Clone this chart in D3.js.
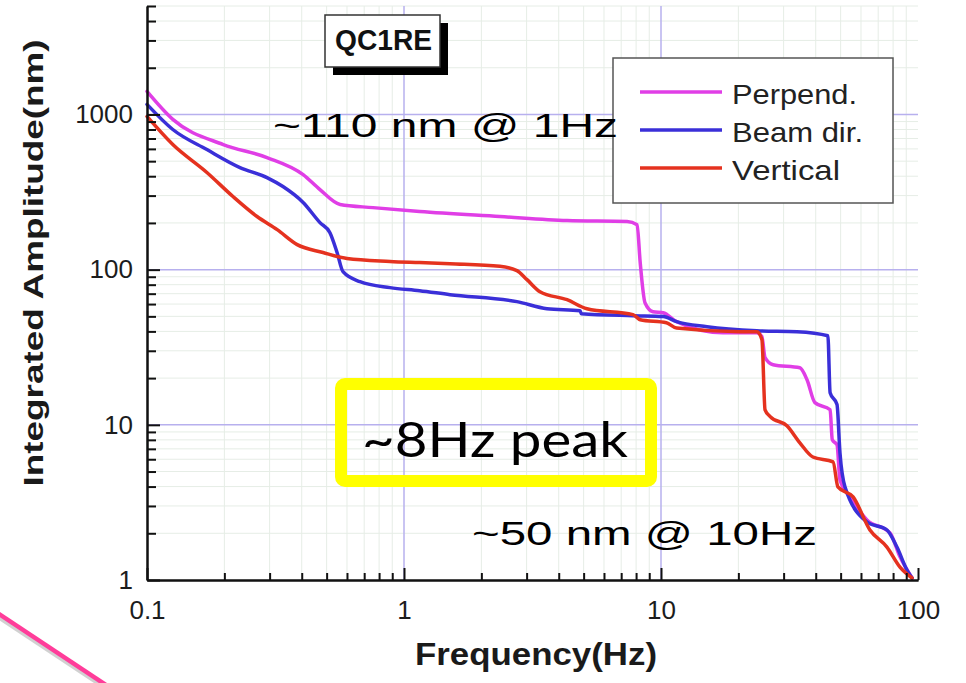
<!DOCTYPE html>
<html><head><meta charset="utf-8">
<script src="https://cdn.jsdelivr.net/npm/d3@7"></script>
<style>body{margin:0;background:#fff;} svg{display:block;}</style>
</head><body>
<svg id="c" width="966" height="683"></svg>
<script>
// ---------- data ----------
const seriesNames = ["Perpend.", "Beam dir.", "Vertical"];
const seriesColors = ["#e03ee6", "#3a2fd8", "#e5321f"];

const freqPerp = [0.1, 0.126, 0.198, 0.293, 0.405, 0.471, 0.564, 0.757, 1.15, 2.36, 4.31, 7.38, 8.07, 8.3, 8.67, 9.31, 10.2, 11.5, 17.4, 23.6, 24.7, 25.4, 27.3, 34.7, 37, 39.7, 45.5, 46.4, 48.4, 49.7, 54.4, 63.3, 77.8, 85.1, 94.8];
const ampPerp  = [1407, 929, 640, 528, 410, 328, 263, 251, 237, 220, 207, 204, 195, 111, 61, 53.6, 52.8, 46.2, 39.2, 39.2, 37, 27.1, 24.4, 23.3, 19.5, 13.9, 12.5, 8.0, 7.43, 4.42, 3.43, 2.44, 2.01, 1.41, 1.03];

const freqBeam = [0.1, 0.126, 0.171, 0.230, 0.293, 0.338, 0.405, 0.471, 0.515, 0.549, 0.579, 0.674, 0.882, 1.15, 1.51, 2.75, 3.6, 4.84, 4.9, 7.78, 10.2, 11.5, 15.1, 23.6, 33.8, 44.6, 45.5, 48.4, 49.7, 52, 63.3, 75.7, 82.8, 90.6, 94.8];
const ampBeam  = [1161, 800, 594, 455, 392, 343, 271, 201, 173, 129, 97, 83.7, 76.6, 73.2, 69, 62.2, 56, 54.4, 52, 50.5, 49.9, 46.2, 42.9, 40.4, 39.8, 37.5, 16.1, 13.5, 6.6, 3.98, 2.37, 2.1, 1.63, 1.16, 1.03];

const freqVert = [0.1, 0.126, 0.171, 0.216, 0.268, 0.321, 0.384, 0.484, 0.6, 0.882, 1.15, 1.51, 2.36, 2.75, 3.01, 3.38, 4.31, 5.15, 7.78, 8.3, 10.5, 11.5, 20.3, 23.6, 24.7, 25.4, 26.6, 30.9, 34.7, 39, 46.7, 48.8, 55.9, 65, 75.7, 85.1, 94.8];
const ampVert  = [971, 640, 423, 296, 220, 181, 145, 129, 118, 113, 111, 109, 105, 98.6, 86.2, 72.1, 64, 56, 51.3, 47.6, 45.5, 42, 39.8, 39.8, 35.4, 12.5, 11.3, 9.86, 7.65, 6.2, 5.77, 3.98, 3.43, 2.1, 1.63, 1.21, 1.03];

const xTickValues = [0.1, 1, 10, 100];
const xTickLabels = ["0.1", "1", "10", "100"];
const yTickValues = [1, 10, 100, 1000];
const yTickLabels = ["1", "10", "100", "1000"];
const xTitle = "Frequency(Hz)";
const yTitle = "Integrated Amplitude(nm)";
const boxLabel = "QC1RE";
const note1 = "~110 nm @ 1Hz";
const note2 = "~8Hz peak";
const note3 = "~50 nm @ 10Hz";

// ---------- chart ----------
const svg = d3.select("#c");
const x = d3.scaleLog().domain([0.1, 100]).range([147, 918]);
const y = d3.scaleLog().domain([1, 5000]).range([580, 6]);

function minorTicks(lo, hi) {
  const out = [];
  for (let e = Math.floor(Math.log10(lo)); e <= Math.ceil(Math.log10(hi)); e++) {
    for (let m = 2; m <= 9; m++) {
      const v = m * Math.pow(10, e);
      if (v > lo && v <= hi + 1e-9) out.push(v);
    }
  }
  return out;
}
const minorX = minorTicks(0.1, 100).filter(v => v < 100);
const minorY = minorTicks(1, 5000);

// minor grid
const grid = svg.append("g");
grid.selectAll("line.mx").data(minorX).join("line")
  .attr("x1", d => x(d)).attr("x2", d => x(d)).attr("y1", y(5000)).attr("y2", y(1))
  .attr("stroke", "#e6ede6").attr("stroke-width", 1);
grid.selectAll("line.my").data(minorY).join("line")
  .attr("x1", x(0.1)).attr("x2", x(100)).attr("y1", d => y(d)).attr("y2", d => y(d))
  .attr("stroke", "#e6ede6").attr("stroke-width", 1);
// major grid
grid.selectAll("line.gx").data([1, 10]).join("line")
  .attr("x1", d => x(d)).attr("x2", d => x(d)).attr("y1", y(5000)).attr("y2", y(1))
  .attr("stroke", "#b7b0ee").attr("stroke-width", 1.5);
grid.selectAll("line.gy").data([10, 100, 1000]).join("line")
  .attr("x1", x(0.1)).attr("x2", x(100)).attr("y1", d => y(d)).attr("y2", d => y(d))
  .attr("stroke", "#b7b0ee").attr("stroke-width", 1.5);

// series
const series = [
  {f: freqPerp, a: ampPerp},
  {f: freqBeam, a: ampBeam},
  {f: freqVert, a: ampVert}
];
const line = d3.line().x(d => x(d[0])).y(d => y(d[1])).curve(d3.curveMonotoneX);
series.forEach((s, i) => {
  svg.append("path")
    .datum(s.f.map((f, k) => [f, s.a[k]]))
    .attr("d", line)
    .attr("fill", "none")
    .attr("stroke", seriesColors[i])
    .attr("stroke-width", 3.5)
    .attr("stroke-linejoin", "round")
    .attr("stroke-linecap", "round");
});

// axes
const font = "'Liberation Sans', Arial, Helvetica, sans-serif";
function styleAxis(g) {
  g.attr("font-family", font).attr("font-size", 26);
  g.select(".domain").attr("stroke", "#111").attr("stroke-width", 2);
  g.selectAll(".tick line").attr("stroke", "#111").attr("stroke-width", 2);
  g.selectAll(".tick text").attr("fill", "#1c1c1c");
}
svg.append("g").attr("transform", "translate(0,580)")
  .call(d3.axisBottom(x).tickValues(minorX).tickSize(-7).tickSizeOuter(0).tickFormat(""))
  .call(styleAxis);
svg.append("g").attr("transform", "translate(147,0)")
  .call(d3.axisLeft(y).tickValues(minorY).tickSize(-9).tickSizeOuter(0).tickFormat(""))
  .call(styleAxis);
svg.append("g").attr("transform", "translate(0,580)")
  .call(d3.axisBottom(x).tickValues(xTickValues).tickSize(-12).tickSizeOuter(0).tickPadding(21)
    .tickFormat((d, i) => xTickLabels[i]))
  .call(styleAxis);
svg.append("g").attr("transform", "translate(147,0)")
  .call(d3.axisLeft(y).tickValues(yTickValues).tickSize(-13).tickSizeOuter(0).tickPadding(14)
    .tickFormat((d, i) => yTickLabels[i]))
  .call(styleAxis);

// titles
svg.append("text").text(xTitle)
  .attr("x", 536).attr("y", 665).attr("text-anchor", "middle")
  .attr("font-family", font).attr("font-weight", "bold").attr("font-size", 31)
  .attr("textLength", 242).attr("lengthAdjust", "spacingAndGlyphs").attr("fill", "#1a1a1a");
svg.append("text").text(yTitle)
  .attr("transform", "translate(43,263) rotate(-90)").attr("text-anchor", "middle")
  .attr("font-family", font).attr("font-weight", "bold").attr("font-size", 27)
  .attr("textLength", 447).attr("lengthAdjust", "spacingAndGlyphs").attr("fill", "#1a1a1a");

// QC1RE box
svg.append("rect").attr("x", 333).attr("y", 23).attr("width", 115).attr("height", 52).attr("fill", "#000");
svg.append("rect").attr("x", 325).attr("y", 15).attr("width", 115).attr("height", 52)
  .attr("fill", "#fff").attr("stroke", "#333").attr("stroke-width", 1.5);
svg.append("text").text(boxLabel)
  .attr("x", 335).attr("y", 50)
  .attr("font-family", font).attr("font-weight", "bold").attr("font-size", 29)
  .attr("textLength", 97).attr("lengthAdjust", "spacingAndGlyphs").attr("fill", "#111");

// legend
const lg = svg.append("g");
lg.append("rect").attr("x", 613).attr("y", 58).attr("width", 280).attr("height", 145)
  .attr("fill", "#fff").attr("stroke", "#555").attr("stroke-width", 1.5);
const legendTextLen = [125, 131, 108];
seriesNames.forEach((n, i) => {
  const ly = 92 + i * 38;
  lg.append("line").attr("x1", 640).attr("x2", 722).attr("y1", ly).attr("y2", ly)
    .attr("stroke", seriesColors[i]).attr("stroke-width", 3.5);
  lg.append("text").text(n).attr("x", 732).attr("y", ly + 12)
    .attr("font-family", font).attr("font-size", 28).attr("fill", "#222")
    .attr("textLength", legendTextLen[i]).attr("lengthAdjust", "spacingAndGlyphs");
});

// annotations
svg.append("text").text(note1).attr("x", 273).attr("y", 137)
  .attr("font-family", font).attr("font-size", 34).attr("fill", "#000")
  .attr("textLength", 345).attr("lengthAdjust", "spacingAndGlyphs");
svg.append("text").text(note3).attr("x", 472).attr("y", 545)
  .attr("font-family", font).attr("font-size", 34).attr("fill", "#000")
  .attr("textLength", 345).attr("lengthAdjust", "spacingAndGlyphs");
svg.append("rect").attr("x", 341).attr("y", 384).attr("width", 310).attr("height", 97)
  .attr("rx", 4).attr("fill", "none").attr("stroke", "#ffff00").attr("stroke-width", 12);
svg.append("text").text(note2).attr("x", 362).attr("y", 457)
  .attr("font-family", "Lato, 'Open Sans', sans-serif").attr("font-size", 48).attr("fill", "#000")
  .attr("textLength", 266).attr("lengthAdjust", "spacingAndGlyphs");

// pink slide arrow line
svg.append("line").attr("x1", -10).attr("y1", 611).attr("x2", 112).attr("y2", 692)
  .attr("stroke", "rgba(0,0,0,0.18)").attr("stroke-width", 5);
svg.append("line").attr("x1", -10).attr("y1", 608).attr("x2", 112).attr("y2", 689)
  .attr("stroke", "#ff3d9a").attr("stroke-width", 4.5);
</script>
</body></html>
